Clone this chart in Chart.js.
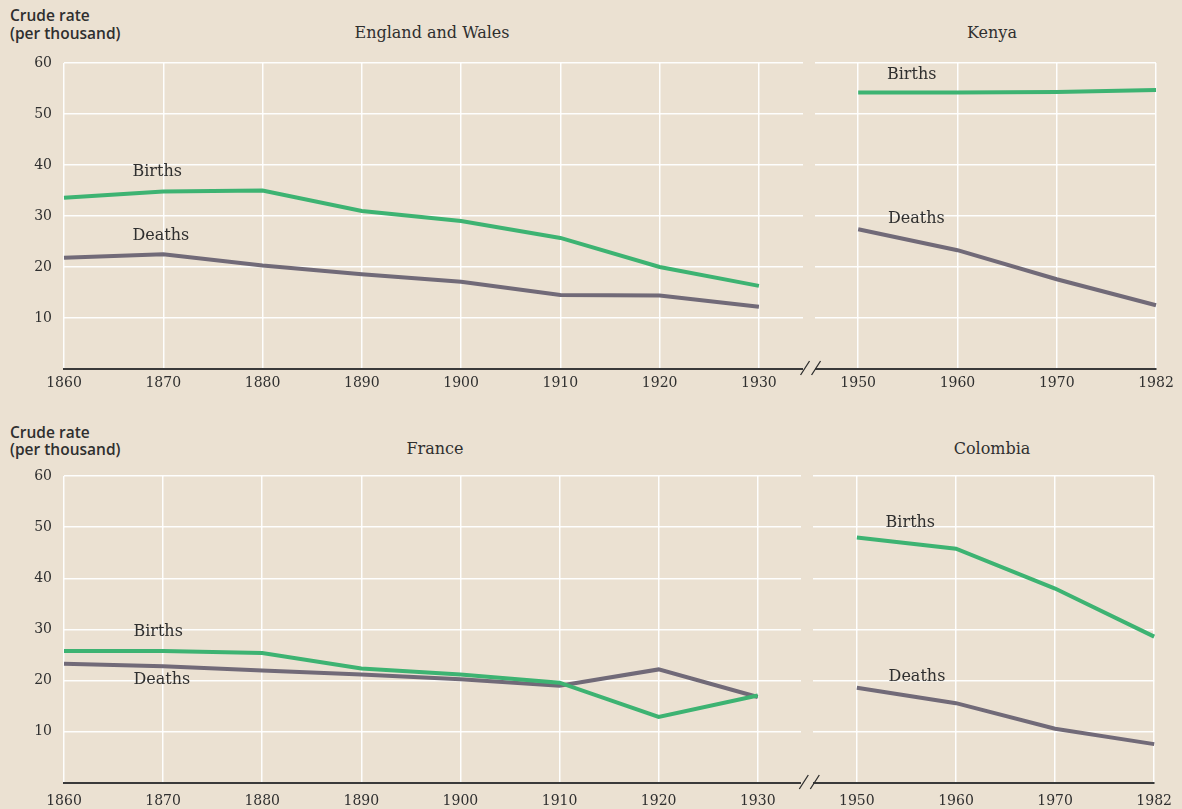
<!DOCTYPE html>
<html>
<head>
<meta charset="utf-8">
<script src="https://cdn.jsdelivr.net/npm/chart.js@4.4.1/dist/chart.umd.min.js"></script>
<style>
  body { margin: 0; background: #ebe1d2; width: 1182px; height: 809px; overflow: hidden; position: relative; }
  .panel { position: absolute; left: 0; }
  .lab { position: absolute; color: #2f2f2f; white-space: nowrap; }
  .ytitle { font-family: "Open Sans", sans-serif; font-weight: 600; font-size: 15.5px; line-height: 18px; left: 10px; }
  .ptitle { font-family: "DejaVu Serif", serif; font-size: 16px; line-height: 18px; transform: translateX(-50%); }
</style>
</head>
<body>
<div class="lab ytitle" style="top:6px">Crude rate</div>
<div class="lab ytitle" style="top:24px">(per thousand)</div>
<div class="lab ptitle" style="left:432px; top:24px">England and Wales</div>
<div class="lab ptitle" style="left:992px; top:24px">Kenya</div>

<div class="lab ytitle" style="top:423px">Crude rate</div>
<div class="lab ytitle" style="top:440px">(per thousand)</div>
<div class="lab ptitle" style="left:435px; top:440px">France</div>
<div class="lab ptitle" style="left:992px; top:440px">Colombia</div>

<div class="panel" style="top:0px"><canvas id="topChart" width="1182" height="405"></canvas></div>
<div class="panel" style="top:405px"><canvas id="bottomChart" width="1182" height="404"></canvas></div>

<script>
// Years on the two halves of each row
const earlyYears = ['1860', '1870', '1880', '1890', '1900', '1910', '1920', '1930'];
const lateYears = ['1950', '1960', '1970', '1982'];
const yTicks = [10, 20, 30, 40, 50, 60];

// Crude rates per thousand
const englandBirths = [33.6, 34.8, 35.0, 31.0, 29.0, 25.7, 20.0, 16.3];
const englandDeaths = [21.8, 22.5, 20.3, 18.6, 17.1, 14.5, 14.4, 12.2];
const kenyaBirths = [54.2, 54.2, 54.3, 54.7];
const kenyaDeaths = [27.4, 23.3, 17.6, 12.5];

const franceBirths = [25.8, 25.8, 25.4, 22.4, 21.2, 19.6, 12.9, 17.1];
const franceDeaths = [23.3, 22.8, 22.0, 21.2, 20.3, 19.0, 22.2, 16.8];
const colombiaBirths = [48.0, 45.8, 38.0, 28.6];
const colombiaDeaths = [18.6, 15.6, 10.6, 7.6];

const BIRTH_COLOR = '#3db372';
const DEATH_COLOR = '#716a78';
const GRID = 'rgba(255,255,255,0.95)';
const INK = '#2f2f2f';

const allYears = earlyYears.concat(lateYears);
const padLate = lateYears.map(() => null);
const padEarly = earlyYears.map(() => null);

function lineSet(data, color) {
    return {
        data: data,
        borderColor: color,
        borderWidth: 4,
        pointRadius: 0,
        tension: 0,
        spanGaps: false
    };
}

// clears the strip between 1930 and 1950 and draws the // break marks
const breakPlugin = {
    id: 'axisBreak',
    beforeDatasetsDraw(chart) {
        const x = chart.scales.x;
        const area = chart.chartArea;
        const mid = (x.getPixelForValue(earlyYears.length - 1) + x.getPixelForValue(earlyYears.length)) / 2;
        const ctx = chart.ctx;
        ctx.save();
        ctx.clearRect(mid - 6, area.top - 3, 12, area.bottom - area.top + 6);
        ctx.strokeStyle = INK;
        ctx.lineWidth = 1.3;
        ctx.beginPath();
        ctx.moveTo(mid - 8, area.bottom + 6);
        ctx.lineTo(mid + 1, area.bottom - 8);
        ctx.moveTo(mid + 3, area.bottom + 6);
        ctx.lineTo(mid + 12, area.bottom - 8);
        ctx.stroke();
        ctx.restore();
    }
};

// "Births" / "Deaths" captions placed in data units
const captionPlugin = {
    id: 'captions',
    afterDatasetsDraw(chart, args, opts) {
        const ctx = chart.ctx;
        ctx.save();
        ctx.font = '16px "DejaVu Serif", serif';
        ctx.fillStyle = INK;
        ctx.textAlign = 'left';
        ctx.textBaseline = 'middle';
        (opts.items || []).forEach(it => {
            ctx.fillText(it.text, chart.scales.x.getPixelForValue(it.at), chart.scales.y.getPixelForValue(it.value));
        });
        ctx.restore();
    }
};

function makeChart(id, padTop, axisHeight, tickPad, datasets, captions) {
    const ctx = document.getElementById(id).getContext('2d');
    return new Chart(ctx, {
        type: 'line',
        data: { labels: allYears, datasets: datasets },
        plugins: [breakPlugin, captionPlugin],
        options: {
            responsive: false,
            animation: false,
            devicePixelRatio: 1,
            layout: { padding: { top: padTop, right: 26, left: 0, bottom: 0 } },
            plugins: {
                legend: { display: false },
                tooltip: { enabled: false },
                captions: { items: captions }
            },
            scales: {
                x: {
                    offset: false,
                    grid: { color: GRID, lineWidth: 1.5, drawTicks: false },
                    border: { display: true, color: '#3a3a3a', width: 2 },
                    ticks: {
                        color: INK,
                        padding: tickPad,
                        maxRotation: 0,
                        autoSkip: false,
                        font: { family: '"DejaVu Serif", serif', size: 14 }
                    },
                    afterFit: s => { s.height = axisHeight; }
                },
                y: {
                    min: 0,
                    max: 60,
                    afterBuildTicks: s => { s.ticks = [0].concat(yTicks).map(v => ({ value: v })); },
                    grid: {
                        color: c => (c.tick && c.tick.value === 0) ? 'rgba(0,0,0,0)' : GRID,
                        lineWidth: 1.5,
                        drawTicks: false
                    },
                    border: { display: false },
                    ticks: {
                        color: INK,
                        padding: 12,
                        font: { family: '"DejaVu Serif", serif', size: 14 },
                        callback: v => v === 0 ? '' : v
                    },
                    afterFit: s => { s.width = 64; }
                }
            }
        }
    });
}

makeChart('topChart', 63, 36, 6, [
    lineSet(englandBirths.concat(padLate), BIRTH_COLOR),
    lineSet(englandDeaths.concat(padLate), DEATH_COLOR),
    lineSet(padEarly.concat(kenyaBirths), BIRTH_COLOR),
    lineSet(padEarly.concat(kenyaDeaths), DEATH_COLOR)
], [
    { text: 'Births', at: 0.69, value: 38.6 },
    { text: 'Deaths', at: 0.69, value: 26.1 },
    { text: 'Births', at: 8.29, value: 57.6 },
    { text: 'Deaths', at: 8.3, value: 29.4 }
]);

makeChart('bottomChart', 71, 26, 10, [
    lineSet(franceBirths.concat(padLate), BIRTH_COLOR),
    lineSet(franceDeaths.concat(padLate), DEATH_COLOR),
    lineSet(padEarly.concat(colombiaBirths), BIRTH_COLOR),
    lineSet(padEarly.concat(colombiaDeaths), DEATH_COLOR)
], [
    { text: 'Births', at: 0.7, value: 29.5 },
    { text: 'Deaths', at: 0.7, value: 20.2 },
    { text: 'Births', at: 8.29, value: 50.8 },
    { text: 'Deaths', at: 8.32, value: 20.8 }
]);
</script>
</body>
</html>
